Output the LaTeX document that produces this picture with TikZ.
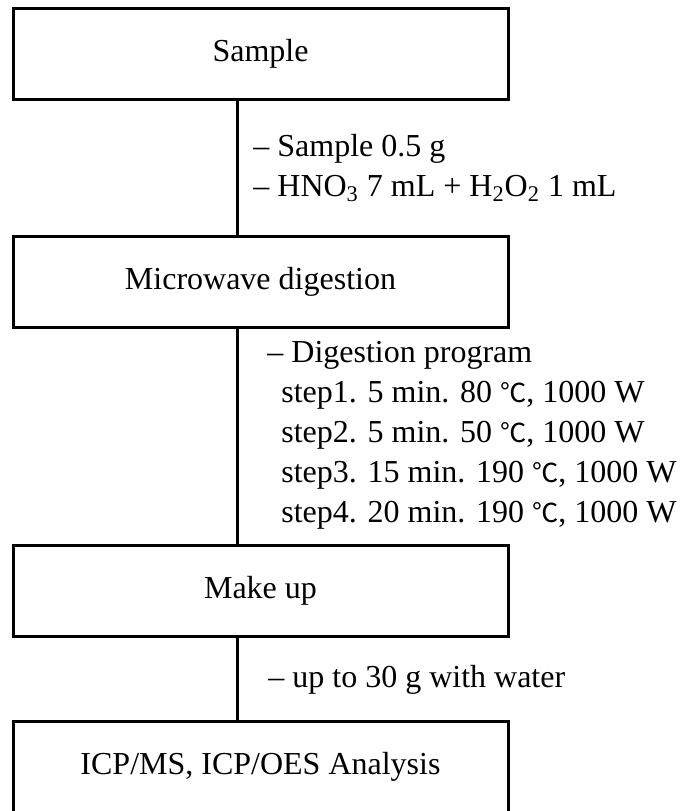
\documentclass[tikz,border=0pt]{standalone}
\usepackage{fontspec}
\setmainfont{Liberation Serif}
\newfontfamily\cjk[Scale=0.82]{Noto Sans CJK KR}
\usetikzlibrary{positioning,calc}
\newcommand{\degc}{{\cjk ℃}}

\begin{document}
\begin{tikzpicture}[
  x=0.5pt, y=-0.5pt,
  stage/.style={rectangle, draw, line width=1.5pt, inner sep=0pt,
    minimum width=247.5pt, minimum height=45.5pt,
    font=\fontsize{16}{20}\selectfont},
  note/.style={anchor=base west, align=left, inner sep=0pt,
    font=\fontsize{16}{20}\selectfont},
  link/.style={line width=1.5pt}
]
\useasboundingbox (0,0) rectangle (684,811);
\coordinate (spine) at (237,0);
% process boxes
\node[stage] (sample) at (260.5,54) {Sample};
\node[stage] (digest) at (260.5,282) {Microwave digestion};
\node[stage] (makeup) at (260.5,591) {Make up};
\node[stage] (icp) at (260.5,767) {ICP/MS, ICP/OES Analysis};
% connectors
\draw[link] (sample.south -| spine) -- (digest.north -| spine);
\draw[link] (digest.south -| spine) -- (makeup.north -| spine);
\draw[link] (makeup.south -| spine) -- (icp.north -| spine);
% conditions (anchored on last baseline)
\node[note] (acid) at (253,196) {-- Sample 0.5 g\\
  -- HNO\textsubscript{3} 7 mL + H\textsubscript{2}O\textsubscript{2} 1 mL};
\node[note] (prog) at (267,522) {-- Digestion program\\
  \hspace{7pt}step1. 5 min. 80 \degc, 1000 W\\
  \hspace{7pt}step2. 5 min. 50 \degc, 1000 W\\
  \hspace{7pt}step3. 15 min. 190 \degc, 1000 W\\
  \hspace{7pt}step4. 20 min. 190 \degc, 1000 W};
\node[note] (water) at (268,687) {-- up to 30 g with water};
\end{tikzpicture}
\end{document}
